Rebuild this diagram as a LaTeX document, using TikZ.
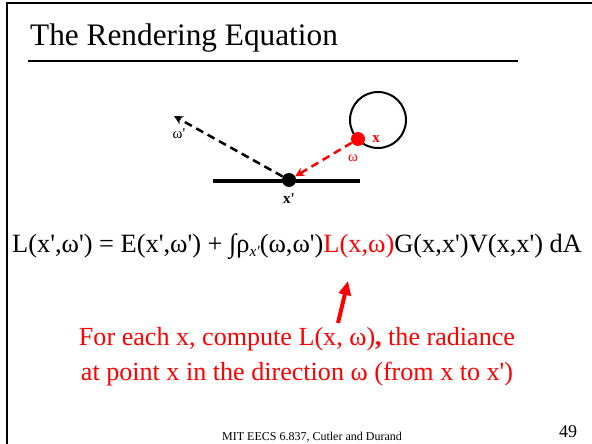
\documentclass[tikz,border=0pt]{standalone}
\usepackage{fontspec}
\setmainfont{Liberation Serif}
\usetikzlibrary{arrows.meta,positioning}
\definecolor{hot}{RGB}{255,0,0}
\newcommand{\pr}{\textquotesingle}
\newcommand{\fs}[1]{\fontsize{#1bp}{1.2\dimexpr#1bp\relax}\selectfont}
\tikzset{
  dot/.style={circle,fill,inner sep=0pt,minimum size=14bp},
  ray/.style={dash pattern=on 8bp off 5bp,line width=2.5bp,-{Stealth[length=9bp,width=9bp]}},
  lbl/.style={font=\fs{15},inner sep=1pt},
  frame/.style={line width=2.5bp}
}
\begin{document}
\begin{tikzpicture}[x=1bp,y=-1bp]
\useasboundingbox (0,0) rectangle (592,444);
% slide frame
\draw[frame] (7,444) -- (7,3) -- (592,3);
\node[anchor=base west,inner sep=0pt,font=\fs{31.3}] (title) at (30,46) {The Rendering Equation};
\draw[line width=1.5bp] (28,61) -- (518,61);
% scene
\node[circle,draw,line width=2bp,minimum size=56bp,inner sep=0pt] (surf) at (378,120) {};
\coordinate (barl) at (213,181);
\coordinate (barr) at (360,181);
\draw[line width=4bp] (barl) -- (barr);
\node[dot] (xp) at (289,180) {};
\node[dot,hot] (xpt) at (358,139) {};
\coordinate (wout) at (174,116);
\draw[ray] (xp) -- (wout);
\draw[ray,hot] (xpt) -- (xp);
\node[lbl,font=\fs{15}\bfseries,below=5bp of xp] (xplab) {x\pr};
\node[lbl,font=\fs{15}\bfseries,hot,right=6bp of xpt] (xlab) {x};
\node[lbl,hot] (wlab) at (353,158) {ω};
\node[lbl] (wplab) at (179,134) {ω\pr};
% equation
\node[anchor=base west,inner sep=0pt,font=\fs{26.4}] (eqn) at (12,253)
  {L(x\pr,ω\pr) = E(x\pr,ω\pr) + ∫ρ\raisebox{-0.25ex}{\fs{15.5}\itshape x\pr}(ω,ω\pr)\textcolor{hot}{L(x,ω)}G(x,x\pr)V(x,x\pr) dA};
\node[anchor=base,align=center,font=\fontsize{26.1bp}{35bp}\selectfont,text=hot,inner sep=0pt] (note) at (297,380)
  {For each x, compute L(x, ω)\textbf{,} the radiance\\at point x in the direction ω (from x to x\pr)};
\coordinate (tail) at (338,323);
\coordinate (hit) at (348,281);
\draw[hot,line width=4bp,-{Triangle[length=14bp,width=12bp]}] (tail) -- (hit);
% footer
\node[font=\fs{12},inner sep=0pt] (foot) at (312,437) {MIT EECS 6.837, Cutler and Durand};
\node[font=\fs{18},inner sep=0pt] (page) at (568,432) {49};
\end{tikzpicture}
\end{document}
